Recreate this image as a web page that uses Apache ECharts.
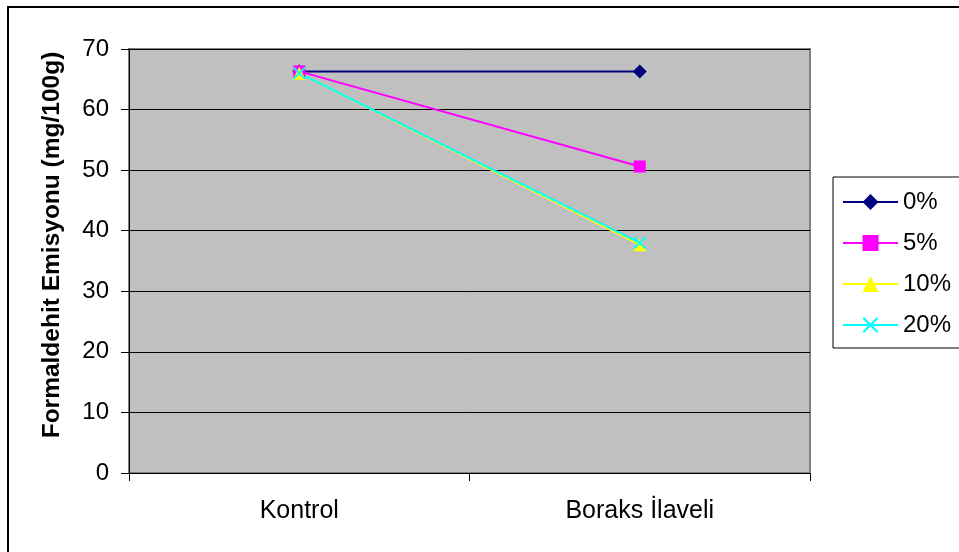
<!DOCTYPE html>
<html>
<head>
<meta charset="utf-8">
<script src="https://cdn.jsdelivr.net/npm/echarts@6/dist/echarts.min.js"></script>
<style>html,body{margin:0;padding:0;background:#fff}#c{width:959px;height:552px}</style>
</head>
<body>
<div id="c"></div>
<script>
var categories = ['Kontrol', 'Boraks İlaveli'];
var seriesNames = ['0%', '5%', '10%', '20%'];
var s0 = [66.3, 66.3];
var s5 = [66.3, 50.6];
var s10 = [66.0, 37.7];
var s20 = [66.0, 38.0];
var yTicks = [0, 10, 20, 30, 40, 50, 60, 70];

var FONT = 'Liberation Sans, Arial, sans-serif';
var xSym = 'path://M0,1 L1,0 L5,4 L9,0 L10,1 L6,5 L10,9 L9,10 L5,6 L1,10 L0,9 L4,5 Z';

var chart = echarts.init(document.getElementById('c'));
chart.setOption({
  animation: false,
  backgroundColor: '#fff',
  textStyle: { fontFamily: FONT, color: '#000' },
  graphic: [{
    type: 'rect', z: -10, silent: true,
    shape: { x: 8, y: 7, width: 1000, height: 600 },
    style: { fill: 'none', stroke: '#000', lineWidth: 2 }
  }],
  grid: {
    left: 129, right: 149, top: 49, bottom: 79,
    show: true, backgroundColor: '#C0C0C0', borderColor: '#808080', borderWidth: 2
  },
  legend: {
    orient: 'vertical', left: 833, top: 177,
    padding: [13, 40, 11, 9],
    borderColor: '#000', borderWidth: 1,
    itemWidth: 55, itemHeight: 20, itemGap: 17,
    textStyle: { fontFamily: FONT, fontSize: 24, color: '#000' },
    data: seriesNames
  },
  xAxis: {
    type: 'category', data: categories, boundaryGap: true,
    axisLine: { lineStyle: { color: '#000', width: 1 } },
    axisTick: { show: true, length: 8, lineStyle: { color: '#000' } },
    axisLabel: { fontFamily: FONT, fontSize: 25, color: '#000', margin: 26 },
    splitLine: { show: false }
  },
  yAxis: {
    type: 'value', min: 0, max: 70, interval: 10,
    name: 'Formaldehit Emisyonu (mg/100g)', nameLocation: 'middle', nameGap: 64,
    nameTextStyle: { fontFamily: FONT, fontSize: 24.5, fontWeight: 'bold', color: '#000',
      padding: [0, 0, 0, 32] },
    axisLine: { show: true, lineStyle: { color: '#000', width: 1 } },
    axisTick: { show: true, length: 8, lineStyle: { color: '#000' } },
    axisLabel: { fontFamily: FONT, fontSize: 24, color: '#000', margin: 20,
      formatter: function (v) { return yTicks.indexOf(v) >= 0 ? String(v) : ''; } },
    splitLine: { show: true, lineStyle: { color: '#000', width: 1 } }
  },
  series: [
    { name: seriesNames[0], type: 'line', data: s0, symbol: 'diamond', symbolSize: 14,
      itemStyle: { color: '#000080' }, lineStyle: { color: '#000080', width: 2 } },
    { name: seriesNames[1], type: 'line', data: s5, symbol: 'rect', symbolSize: 12,
      itemStyle: { color: '#FF00FF' }, lineStyle: { color: '#FF00FF', width: 2 } },
    { name: seriesNames[2], type: 'line', data: s10, symbol: 'triangle', symbolSize: 13,
      itemStyle: { color: '#FFFF00' }, lineStyle: { color: '#FFFF00', width: 2 } },
    { name: seriesNames[3], type: 'line', data: s20, symbol: xSym, symbolSize: 13,
      itemStyle: { color: '#00FFFF' }, lineStyle: { color: '#00FFFF', width: 2 } }
  ]
});
</script>
</body>
</html>
